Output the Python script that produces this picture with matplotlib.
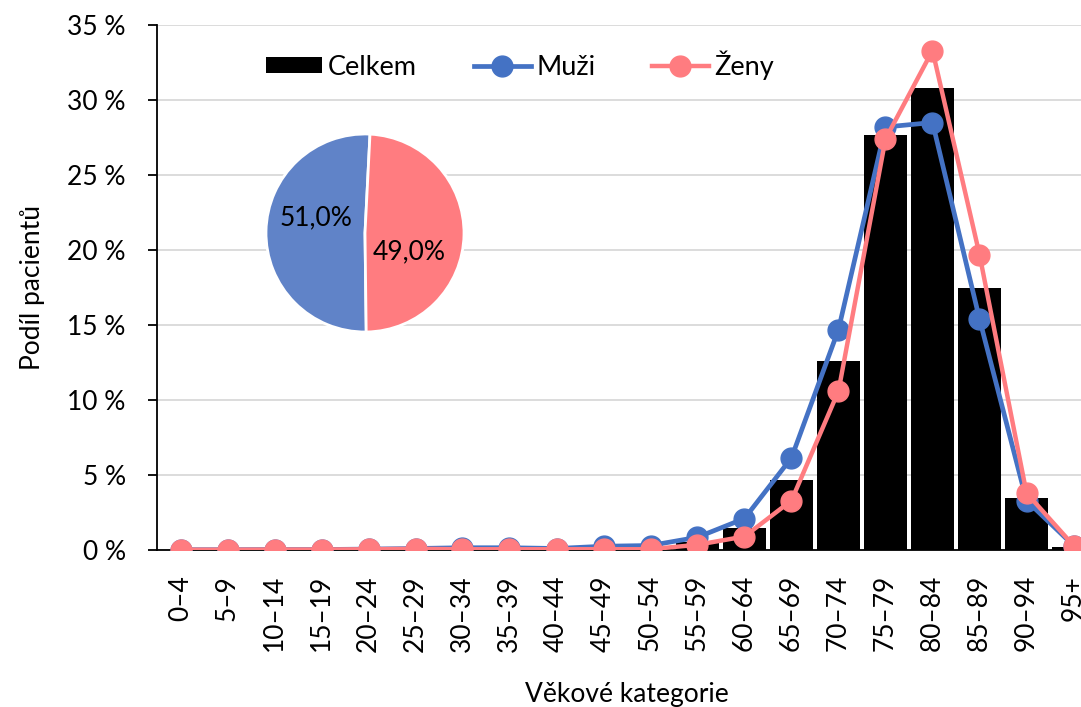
import numpy as np
import matplotlib.pyplot as plt
from matplotlib.ticker import FuncFormatter

plt.rcParams['font.family'] = ['Lato', 'DejaVu Sans']

# data
kategorie = ['0–4', '5–9', '10–14', '15–19', '20–24', '25–29', '30–34', '35–39',
             '40–44', '45–49', '50–54', '55–59', '60–64', '65–69', '70–74',
             '75–79', '80–84', '85–89', '90–94', '95+']
celkem = [0.02, 0.02, 0.03, 0.03, 0.05, 0.1, 0.1, 0.1, 0.08, 0.15, 0.2, 0.55,
          1.5, 4.7, 12.6, 27.7, 30.8, 17.5, 3.5, 0.2]
muzi = [0.02, 0.02, 0.03, 0.03, 0.06, 0.1, 0.15, 0.15, 0.1, 0.25, 0.3, 0.85,
        2.1, 6.15, 14.7, 28.2, 28.5, 15.4, 3.3, 0.3]
zeny = [0.02, 0.02, 0.03, 0.03, 0.05, 0.08, 0.05, 0.05, 0.05, 0.05, 0.05, 0.35,
        0.9, 3.3, 10.6, 27.4, 33.3, 19.7, 3.8, 0.3]
podil_pohlavi = [51.0, 49.0]

modra = '#4472C4'
ruzova = '#FF7C80'
modra_pie = '#6083C8'

W, H = 1081, 707
fig = plt.figure(figsize=(W / 100, H / 100), dpi=100)
ax = fig.add_axes([157 / W, (H - 550) / H, 940 / W, 525 / H])

x = np.arange(len(kategorie))
b = ax.bar(x, celkem, width=0.92, color='black', label='Celkem', zorder=2)
l1, = ax.plot(x, muzi, color=modra, lw=3.4, marker='o', ms=15, label='Muži', zorder=3)
l2, = ax.plot(x, zeny, color=ruzova, lw=3.2, marker='o', ms=15, label='Ženy', zorder=4)

ax.set_xlim(-0.5, 19.5)
ax.set_ylim(0, 35)
ax.set_yticks(np.arange(0, 36, 5))
ax.yaxis.set_major_formatter(FuncFormatter(lambda v, p: f'{v:.0f} %'))
ax.set_xticks(x)
ax.set_xticklabels(kategorie, rotation=90)
ax.tick_params(axis='y', length=6.5, width=1.3, pad=16, labelsize=19)
ax.tick_params(axis='x', length=0, pad=18, labelsize=19)
ax.yaxis.grid(True, color='#D9D9D9', lw=1.3, zorder=0)
ax.set_axisbelow(True)
for s in ['top', 'right']:
    ax.spines[s].set_visible(False)
for s in ['left', 'bottom']:
    ax.spines[s].set_linewidth(1.3)
    ax.spines[s].set_color('black')

ax.set_xlabel('Věkové kategorie', fontsize=19, labelpad=22)
ax.set_ylabel('Podíl pacientů', fontsize=19, labelpad=16)

ax.legend([b, l1, l2], ['Celkem', 'Muži', 'Ženy'], loc='center',
          bbox_to_anchor=(0.386, 0.924), ncol=3, frameon=False,
          fontsize=19.5, handlelength=2.1, handleheight=0.5, handletextpad=0.2,
          columnspacing=2.1)

# pie inset
pax = fig.add_axes([265 / W, (H - 333) / H, 200 / W, 200 / H])
wedges, texts, autotexts = pax.pie(
    podil_pohlavi, colors=[modra_pie, ruzova], startangle=87.1, counterclock=True,
    autopct=lambda p: f'{p:.1f}%'.replace('.', ','), pctdistance=0.5,
    wedgeprops=dict(edgecolor='white', linewidth=2),
    textprops=dict(fontsize=19, color='black'))
autotexts[0].set_position((-0.49, 0.15))
autotexts[1].set_position((0.45, -0.19))
pax.set_xlim(-1.01, 1.01)
pax.set_ylim(-1.01, 1.01)
pax.set_aspect('equal')

fig.savefig('out.png', dpi=100)
